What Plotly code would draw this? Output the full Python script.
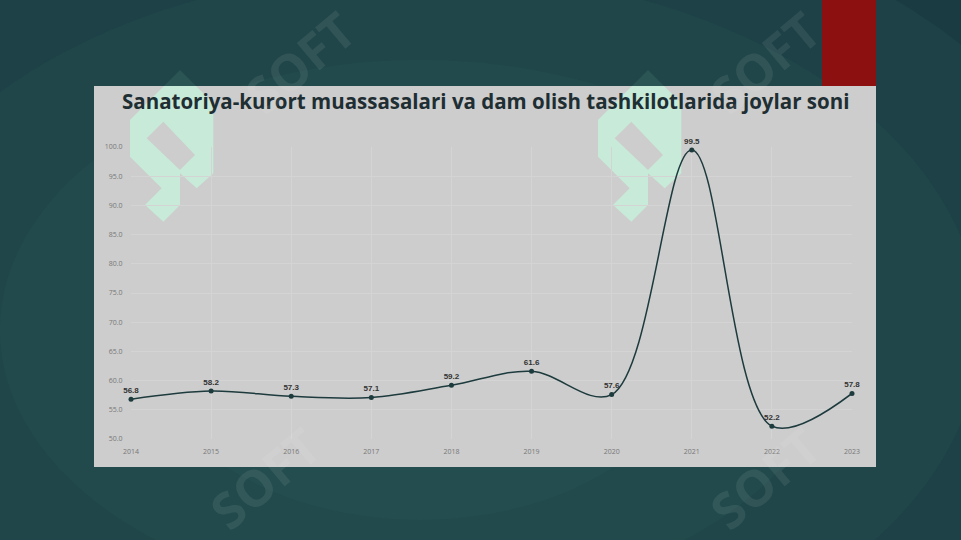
import plotly.graph_objects as go

years = ["2014", "2015", "2016", "2017", "2018", "2019", "2020", "2021", "2022", "2023"]
values = [56.8, 58.2, 57.3, 57.1, 59.2, 61.6, 57.6, 99.5, 52.2, 57.8]
y_ticks = [50, 55, 60, 65, 70, 75, 80, 85, 90, 95, 100]
title_text = "Sanatoriya-kurort muassasalari va dam olish tashkilotlarida joylar soni"

W, H = 961, 540
L, R, T, B = 131, 109, 147, 101
PW, PH = W - L - R, H - T - B


def px(x):
    return (x - L) / PW


def py(y):
    return 1 - (y - T) / PH


shapes = []
# background radial-ish glow
for rx, ry, op in [(700, 450, 0.10), (560, 360, 0.10), (420, 270, 0.10), (280, 190, 0.08)]:
    cx, cy = 420, 330
    shapes.append(dict(type="circle", xref="paper", yref="paper",
                       x0=px(cx - rx), x1=px(cx + rx), y0=py(cy + ry), y1=py(cy - ry),
                       line=dict(width=0), fillcolor=f"rgba(60,120,110,{op})", layer="below"))
# red rectangle
shapes.append(dict(type="rect", xref="paper", yref="paper", x0=px(822), x1=px(876), y0=py(86), y1=py(0),
                   line=dict(width=0), fillcolor="#8c1010", layer="below"))
# gray panel
shapes.append(dict(type="rect", xref="paper", yref="paper", x0=px(94), x1=px(876), y0=py(467), y1=py(86),
                   line=dict(width=0), fillcolor="#cdcdcd", layer="below"))

# mint logos (outline in 1/3-pixel units relative to an origin)
outline = [(102, 78), (198, 78), (250, 130), (250, 340), (200, 385), (150, 340), (150, 435),
           (100, 485), (45, 435), (95, 385), (0, 290), (0, 180)]
inner = [(50, 235), (100, 185), (195, 285), (150, 330)]
peak = [(102, 78), (150, 30), (198, 78)]


def logo_path(pts, ox, oy):
    s = ""
    for k, (zx, zy) in enumerate(pts):
        X = px(ox + zx / 3)
        Y = py(oy + zy / 3)
        s += ("M" if k == 0 else "L") + f"{X:.5f},{Y:.5f} "
    return s + "Z"


for ox in (130, 598):
    shapes.append(dict(type="path", xref="paper", yref="paper", path=logo_path(peak, ox, 60),
                       line=dict(width=0), fillcolor="rgba(120,200,170,0.12)", layer="below"))
    shapes.append(dict(type="path", xref="paper", yref="paper", path=logo_path(outline, ox, 60),
                       line=dict(width=0), fillcolor="#c8ead9", layer="between"))
    shapes.append(dict(type="path", xref="paper", yref="paper", path=logo_path(inner, ox, 60),
                       line=dict(width=0), fillcolor="#cdcdcd", layer="between"))

annotations = [
    dict(text=f"<b>{title_text}</b>", xref="paper", yref="paper", x=px(485), y=py(101),
         showarrow=False, font=dict(family="Open Sans", size=20.5, color="#1e2e33"),
         xanchor="center", yanchor="middle"),
]
for cx, cy in [(300, 62), (765, 62), (265, 478), (765, 478)]:
    annotations.append(dict(text="<b>SOFT</b>", xref="paper", yref="paper", x=px(cx), y=py(cy),
                            showarrow=False, textangle=-40,
                            font=dict(family="Open Sans", size=50, color="rgba(255,255,255,0.08)"),
                            xanchor="center", yanchor="middle"))

fig = go.Figure()
fig.add_trace(go.Scatter(
    x=years, y=values, mode="lines+markers+text",
    line=dict(color="#1d3a3d", width=1.5, shape="spline", smoothing=1),
    marker=dict(color="#1d3a3d", size=5),
    text=[f"<b>{v:.1f}</b>" for v in values], textposition="top center",
    textfont=dict(family="Liberation Sans", size=8, color="#333"),
    cliponaxis=False, hoverinfo="skip",
))

fig.update_layout(
    width=W, height=H,
    margin=dict(l=L, r=R, t=T, b=B),
    paper_bgcolor="#1a3b42",
    plot_bgcolor="rgba(0,0,0,0)",
    showlegend=False,
    shapes=shapes,
    annotations=annotations,
    xaxis=dict(type="category", range=[0, 9], showgrid=True, gridcolor="#d4d4d4", gridwidth=1.2,
               zeroline=False, showline=False, ticks="outside", ticklen=6, tickcolor="rgba(0,0,0,0)",
               tickfont=dict(family="Open Sans", size=7, color="#777")),
    yaxis=dict(range=[50, 100], tickvals=y_ticks, ticktext=[f"{v:.1f}" for v in y_ticks],
               showgrid=True, gridcolor="#d4d4d4", gridwidth=1.2, zeroline=False, showline=False,
               ticks="outside", ticklen=6, tickcolor="rgba(0,0,0,0)",
               tickfont=dict(family="Open Sans", size=7, color="#777")),
)

fig.write_html("out.html", config={"displayModeBar": False},
               post_script="document.body.style.margin='0';")
